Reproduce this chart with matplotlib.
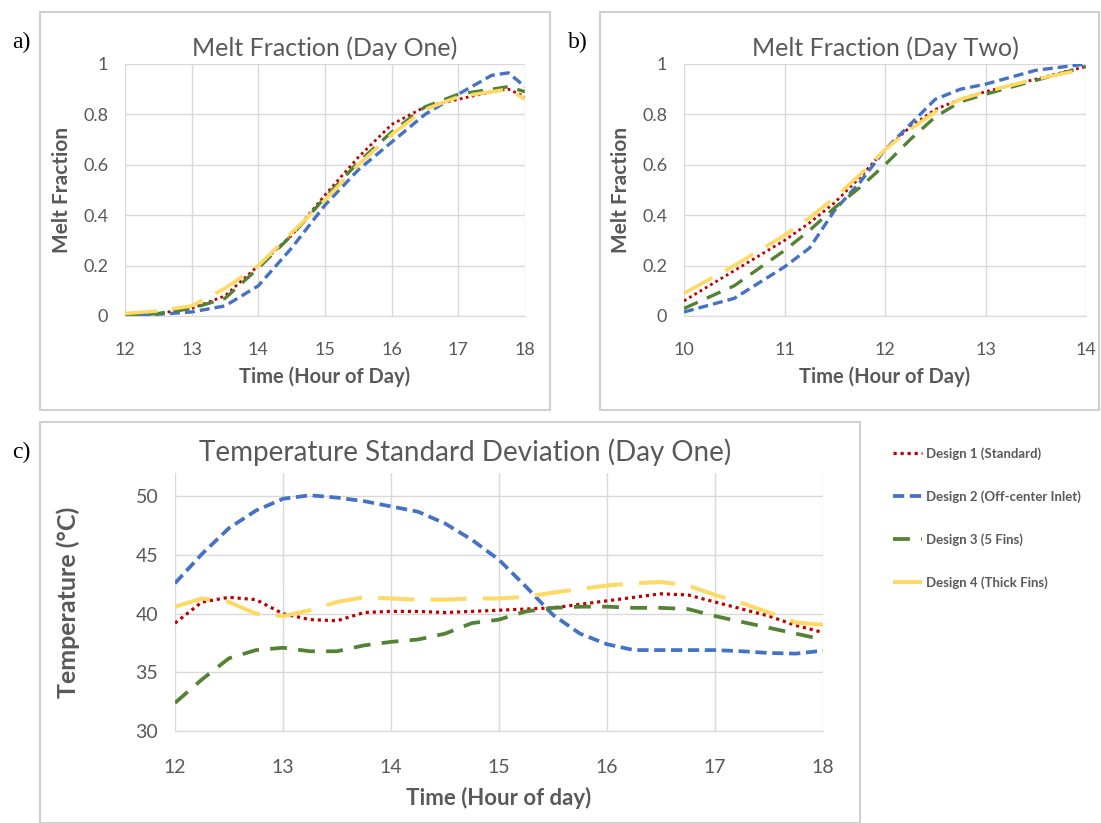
import matplotlib.pyplot as plt
from matplotlib.patches import Rectangle

plt.rcParams['font.family'] = ['Lato', 'DejaVu Sans']

# ---- data ----
# a) melt fraction, day one
hours_a = [12, 12.5, 13, 13.5, 14, 14.5, 15, 15.5, 16, 16.5, 17, 17.5, 17.75, 18]
melt_a_d1 = [0.005, 0.01, 0.03, 0.08, 0.20, 0.32, 0.48, 0.63, 0.76, 0.83, 0.86, 0.89, 0.90, 0.87]
melt_a_d2 = [0.0, 0.007, 0.016, 0.04, 0.12, 0.27, 0.44, 0.58, 0.69, 0.80, 0.88, 0.955, 0.965, 0.91]
melt_a_d3 = [0.0, 0.01, 0.03, 0.07, 0.19, 0.32, 0.47, 0.61, 0.73, 0.83, 0.88, 0.90, 0.91, 0.89]
melt_a_d4 = [0.01, 0.02, 0.04, 0.11, 0.20, 0.33, 0.46, 0.60, 0.72, 0.82, 0.87, 0.89, 0.90, 0.86]

# b) melt fraction, day two
hours_b = [10, 10.5, 11, 11.25, 11.5, 11.75, 12, 12.25, 12.5, 12.75, 13, 13.5, 14]
melt_b_d1 = [0.06, 0.18, 0.30, 0.37, 0.45, 0.55, 0.66, 0.75, 0.82, 0.86, 0.89, 0.94, 0.99]
melt_b_d2 = [0.016, 0.07, 0.195, 0.27, 0.42, 0.53, 0.66, 0.76, 0.86, 0.90, 0.92, 0.975, 1.0]
melt_b_d3 = [0.03, 0.12, 0.26, 0.34, 0.43, 0.51, 0.60, 0.70, 0.79, 0.85, 0.88, 0.935, 0.99]
melt_b_d4 = [0.09, 0.20, 0.32, 0.39, 0.47, 0.56, 0.66, 0.74, 0.81, 0.86, 0.89, 0.94, 0.98]

# c) temperature standard deviation, day one
hours_c = [12, 12.25, 12.5, 12.75, 13, 13.25, 13.5, 13.75, 14, 14.25, 14.5, 14.75,
           15, 15.25, 15.5, 15.75, 16, 16.25, 16.5, 16.75, 17, 17.25, 17.5, 17.75, 18]
temp_d1 = [39.2, 41.0, 41.4, 41.2, 40.0, 39.5, 39.4, 40.1, 40.2, 40.2, 40.1, 40.2,
           40.3, 40.4, 40.5, 40.8, 41.1, 41.4, 41.7, 41.6, 41.0, 40.4, 39.8, 39.0, 38.4]
temp_d2 = [42.6, 45.1, 47.3, 48.8, 49.8, 50.1, 49.9, 49.6, 49.15, 48.7, 47.7, 46.3,
           44.6, 42.3, 39.9, 38.3, 37.4, 36.9, 36.9, 36.9, 36.9, 36.8, 36.65, 36.6, 36.85]
temp_d3 = [32.4, 34.4, 36.2, 36.9, 37.1, 36.8, 36.8, 37.3, 37.6, 37.8, 38.3, 39.2,
           39.5, 40.2, 40.5, 40.6, 40.6, 40.5, 40.5, 40.4, 39.8, 39.3, 38.8, 38.3, 37.8]
temp_d4 = [40.6, 41.3, 41.0, 40.0, 39.8, 40.3, 41.0, 41.4, 41.3, 41.2, 41.2, 41.3,
           41.3, 41.45, 41.8, 42.1, 42.4, 42.6, 42.7, 42.4, 41.6, 40.9, 40.1, 39.25, 39.05]

labels = ["Design 1 (Standard)", "Design 2 (Off-center Inlet)",
          "Design 3 (5 Fins)", "Design 4 (Thick Fins)"]
colors = ["#C00000", "#4472C4", "#548235", "#FFD966"]
styles = [(0, (1, 1.2)), (0, (3, 1.5)), (0, (4.5, 3)), (0, (9, 4))]
widths = [2.0, 2.4, 2.4, 2.6]

grey = "#595959"
W, H = 1101, 823
fig = plt.figure(figsize=(W / 100, H / 100), dpi=100)


def box(x0, y0, x1, y1):
    # pixel box -> figure fraction [left, bottom, width, height]
    return [x0 / W, 1 - y1 / H, (x1 - x0) / W, (y1 - y0) / H]


def frame(x0, y0, x1, y1):
    fig.patches.append(Rectangle((x0 / W, 1 - y1 / H), (x1 - x0) / W, (y1 - y0) / H,
                                 transform=fig.transFigure, fill=False,
                                 edgecolor="#D0D0D0", linewidth=1.5))


def style_axes(ax, tick_size):
    ax.grid(True, color="#D9D9D9", linewidth=1)
    ax.set_axisbelow(True)
    for s in ["top", "right", "left"]:
        ax.spines[s].set_visible(False)
    ax.spines["bottom"].set_color("#D9D9D9")
    ax.tick_params(length=0, colors=grey, labelsize=tick_size)
    ax.tick_params(axis="y", pad=12)


frame(40, 12, 550, 410)
frame(600, 12, 1099, 410)
frame(40, 422, 860, 823)

# panel a
ax_a = fig.add_axes(box(125, 64, 525, 316))
for ys, c, ls, lw in zip([melt_a_d1, melt_a_d2, melt_a_d3, melt_a_d4], colors, styles, widths):
    ax_a.plot(hours_a, ys, color=c, linestyle=ls, linewidth=lw)
ax_a.set_xlim(12, 18)
ax_a.set_ylim(0, 1)
ax_a.set_xticks(range(12, 19))
ax_a.set_yticks([0, 0.2, 0.4, 0.6, 0.8, 1])
ax_a.set_yticklabels(["0", "0.2", "0.4", "0.6", "0.8", "1"])
style_axes(ax_a, 13)
ax_a.tick_params(axis="x", pad=19)
ax_a.set_title("Melt Fraction (Day One)", color=grey, fontsize=18, pad=6)
ax_a.set_xlabel("Time (Hour of Day)", color=grey, fontsize=14.5, fontweight="bold", labelpad=6)
ax_a.set_ylabel("Melt Fraction", color=grey, fontsize=15, fontweight="bold", labelpad=8)

# panel b
ax_b = fig.add_axes(box(684, 64, 1086, 316))
for ys, c, ls, lw in zip([melt_b_d1, melt_b_d2, melt_b_d3, melt_b_d4], colors, styles, widths):
    ax_b.plot(hours_b, ys, color=c, linestyle=ls, linewidth=lw)
ax_b.set_xlim(10, 14)
ax_b.set_ylim(0, 1)
ax_b.set_xticks(range(10, 15))
ax_b.set_yticks([0, 0.2, 0.4, 0.6, 0.8, 1])
ax_b.set_yticklabels(["0", "0.2", "0.4", "0.6", "0.8", "1"])
style_axes(ax_b, 13)
ax_b.tick_params(axis="x", pad=19)
ax_b.set_title("Melt Fraction (Day Two)", color=grey, fontsize=18, pad=6)
ax_b.set_xlabel("Time (Hour of Day)", color=grey, fontsize=14.5, fontweight="bold", labelpad=6)
ax_b.set_ylabel("Melt Fraction", color=grey, fontsize=15, fontweight="bold", labelpad=8)

# panel c
ax_c = fig.add_axes(box(175, 473, 823, 731))
lines = []
for ys, c, ls, lw, lab in zip([temp_d1, temp_d2, temp_d3, temp_d4], colors, styles, widths, labels):
    ln, = ax_c.plot(hours_c, ys, color=c, linestyle=ls, linewidth=lw + 0.3, label=lab)
    lines.append(ln)
ax_c.set_xlim(12, 18)
ax_c.set_ylim(30, 52)
ax_c.set_xticks(range(12, 19))
ax_c.set_yticks([30, 35, 40, 45, 50])
style_axes(ax_c, 14)
ax_c.tick_params(axis="x", pad=20)
ax_c.set_xlabel("Time (Hour of day)", color=grey, fontsize=16, fontweight="bold", labelpad=8)
ax_c.set_ylabel("Temperature (°C)", color=grey, fontsize=18, fontweight="bold", labelpad=40)
fig.text(465 / W, 1 - 452 / H, "Temperature Standard Deviation (Day One)", color=grey,
         fontsize=20, ha="center", va="center")

leg = fig.legend(handles=lines, loc="upper left", bbox_to_anchor=(888 / W, 1 - 442 / H),
                 frameon=False, fontsize=9.5, labelcolor=grey, handlelength=2.2,
                 handletextpad=0.3, labelspacing=2.3, borderaxespad=0)
for t in leg.get_texts():
    t.set_fontweight("bold")

# panel letters
for txt, x, y in [("a)", 12, 42), ("b)", 568, 42), ("c)", 12, 452)]:
    fig.text(x / W, 1 - y / H, txt, fontsize=17, family="Liberation Serif",
             va="center", ha="left")

fig.savefig("out.png", dpi=100)
